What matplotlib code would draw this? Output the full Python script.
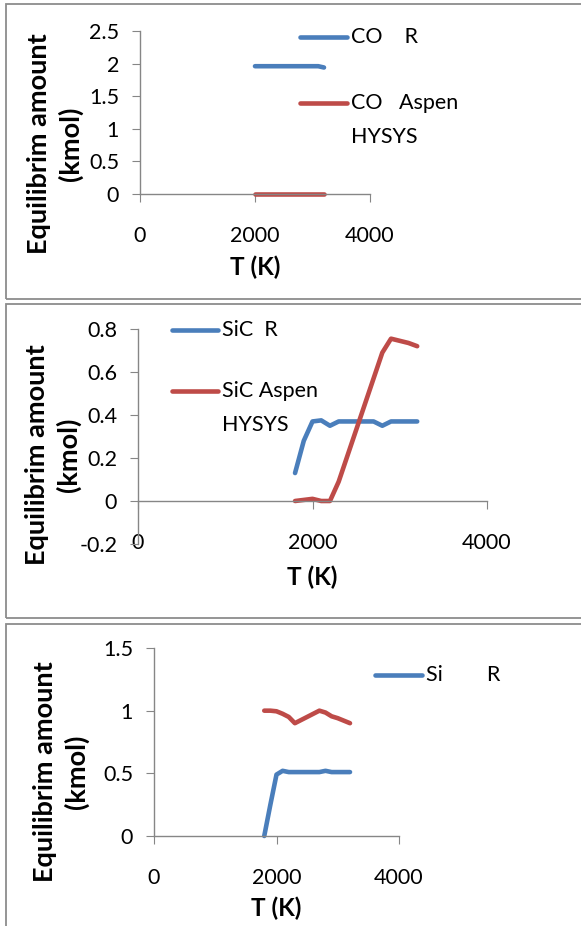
import matplotlib
matplotlib.use("Agg")

import matplotlib.pyplot as plt
from matplotlib.lines import Line2D
from matplotlib.patches import Rectangle

plt.rcParams["font.family"] = ["Lato", "DejaVu Sans"]

W, H = 581, 926
BLUE = "#4a7ebb"
RED = "#be4b48"
GREY = "#868686"

# --- data ---
temp_co = [2000, 2100, 2200, 2300, 2400, 2500, 2600, 2700, 2800, 2900, 3000, 3100, 3200]
co_r = [1.96, 1.96, 1.96, 1.96, 1.96, 1.96, 1.96, 1.96, 1.96, 1.96, 1.96, 1.96, 1.94]
co_aspen = [0, 0, 0, 0, 0, 0, 0, 0, 0, 0, 0, 0, 0]

temp = [1800, 1900, 2000, 2100, 2200, 2300, 2400, 2500, 2600, 2700, 2800, 2900, 3000, 3100, 3200]
sic_r = [0.13, 0.28, 0.37, 0.375, 0.35, 0.37, 0.37, 0.37, 0.37, 0.37, 0.35, 0.37, 0.37, 0.37, 0.37]
sic_aspen = [0.0, 0.005, 0.01, 0.0, 0.0, 0.09, 0.21, 0.33, 0.45, 0.57, 0.69, 0.755, 0.745, 0.735, 0.72]
si_r = [0.0, 0.25, 0.49, 0.52, 0.51, 0.51, 0.51, 0.51, 0.51, 0.51, 0.52, 0.51, 0.51, 0.51, 0.51]
si_aspen = [1.0, 1.0, 0.995, 0.975, 0.95, 0.9, 0.925, 0.95, 0.975, 1.0, 0.985, 0.955, 0.94, 0.92, 0.9]

x_ticks = [0, 2000, 4000]


def fx(px):
    return px / W


def fy(py):
    return 1 - py / H


def panel(fig, frame, axpx, ylim, yticks, ylabels, series, legend, ylab_xy, xlab_y):
    # outer frame of the panel
    x0, y0, x1, y1 = frame
    fig.add_artist(Rectangle((fx(x0), fy(y1)), fx(x1 - x0), (y1 - y0) / H,
                             transform=fig.transFigure, fill=False,
                             edgecolor="#8c8c8c", linewidth=1.3))
    left, top, right, bottom = axpx
    ax = fig.add_axes([fx(left), fy(bottom), fx(right - left), (bottom - top) / H])
    ax.set_xlim(0, 4000)
    ax.set_ylim(*ylim)
    for s in ["top", "right"]:
        ax.spines[s].set_visible(False)
    ax.spines["bottom"].set_position(("data", 0))
    for s in ["left", "bottom"]:
        ax.spines[s].set_color(GREY)
        ax.spines[s].set_linewidth(1.0)
    ax.set_xticks(x_ticks)
    ax.set_xticklabels([str(t) for t in x_ticks])
    ax.set_yticks(yticks)
    ax.set_yticklabels(ylabels)
    ax.tick_params(axis="both", direction="out", length=6, color=GREY, labelsize=15.5)
    ax.tick_params(axis="x", pad=17)
    ax.tick_params(axis="y", pad=9)
    ax.patch.set_alpha(0)

    for xs, ys, col in series:
        ax.plot(xs, ys, color=col, linewidth=3.3, solid_capstyle="round",
                solid_joinstyle="round", clip_on=False)

    # hand-placed legend, as in the original layout
    for (lx0, lx1, ly, col, label) in legend:
        fig.add_artist(Line2D([fx(lx0), fx(lx1)], [fy(ly), fy(ly)],
                              transform=fig.transFigure, color=col,
                              linewidth=3.3, solid_capstyle="round"))
        for i, ln in enumerate(label.split("\n")):
            fig.text(fx(lx1 + 4), fy(ly + i * 34), ln, fontsize=15.5, va="center", ha="left")

    cx = (left + right) / 2
    fig.text(fx(ylab_xy[0]), fy(ylab_xy[1]), "Equilibrim amount\n(kmol)", rotation=90,
             fontsize=19.5, fontweight="bold", ha="center", va="center",
             multialignment="center", linespacing=1.3)
    fig.text(fx(cx), fy(xlab_y), "T (K)", fontsize=17.5, fontweight="bold",
             ha="center", va="center")
    return ax


fig = plt.figure(figsize=(W / 100, H / 100), dpi=100)

panel(fig, (6, 4, 585, 299), (140, 31, 370, 194), (0, 2.5),
      [0, 0.5, 1, 1.5, 2, 2.5], ["0", "0.5", "1", "1.5", "2", "2.5"],
      [(temp_co, co_r, BLUE), (temp_co, co_aspen, RED)],
      [(300, 347, 37, BLUE, "CO    R"), (300, 347, 103, RED, "CO   Aspen\nHYSYS")],
      (55, 144), 267)

panel(fig, (6, 304, 585, 618), (138, 329, 487, 544), (-0.2, 0.8),
      [-0.2, 0, 0.2, 0.4, 0.6, 0.8], ["-0.2", "0", "0.2", "0.4", "0.6", "0.8"],
      [(temp, sic_r, BLUE), (temp, sic_aspen, RED)],
      [(172, 218, 330, BLUE, "SiC  R"), (172, 218, 391, RED, "SiC Aspen\nHYSYS")],
      (53, 455), 577)

panel(fig, (6, 624, 585, 935), (154, 648, 399, 836), (0, 1.5),
      [0, 0.5, 1, 1.5], ["0", "0.5", "1", "1.5"],
      [(temp, si_r, BLUE), (temp, si_aspen, RED)],
      [(375, 422, 675, BLUE, "Si        R")],
      (61, 772), 908)

fig.savefig("out.png", dpi=100)
